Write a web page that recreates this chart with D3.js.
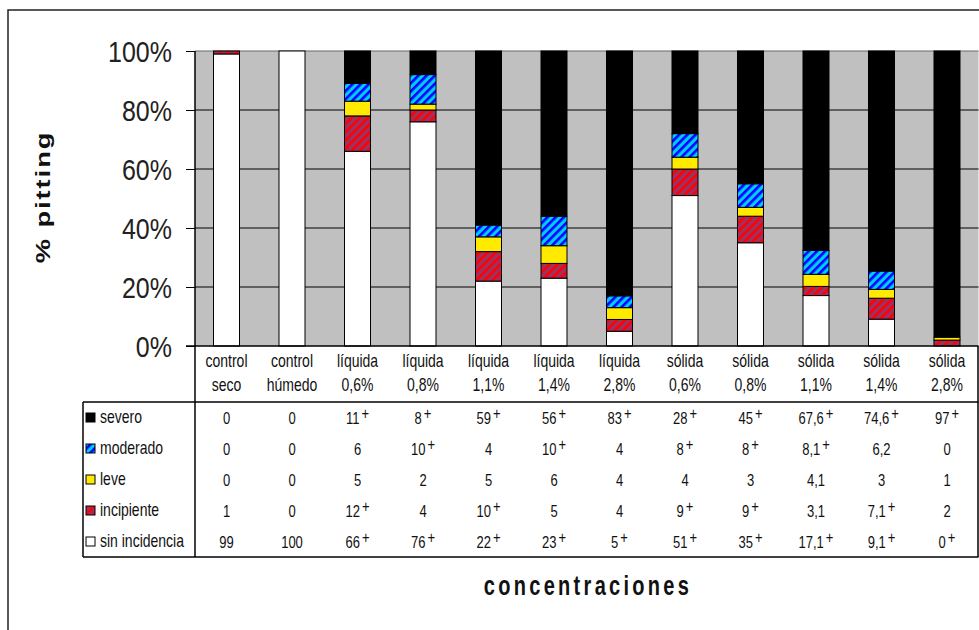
<!DOCTYPE html>
<html>
<head>
<meta charset="utf-8">
<script src="https://cdn.jsdelivr.net/npm/d3@7"></script>
<style>
  body { margin: 0; background: #ffffff; }
  text { font-family: "Liberation Sans", Arial, sans-serif; }
</style>
</head>
<body>
<svg id="chart" width="979" height="630"></svg>
<script>
// Categories (two-line labels)
const categories = [
  ["control", "seco"], ["control", "húmedo"],
  ["líquida", "0,6%"], ["líquida", "0,8%"], ["líquida", "1,1%"], ["líquida", "1,4%"], ["líquida", "2,8%"],
  ["sólida", "0,6%"], ["sólida", "0,8%"], ["sólida", "1,1%"], ["sólida", "1,4%"], ["sólida", "2,8%"]
];

// Percentage of fruits per pitting class
const sinIncidencia = [99, 100, 66, 76, 22, 23, 5, 51, 35, 17.1, 9.1, 0];
const incipiente    = [1, 0, 12, 4, 10, 5, 4, 9, 9, 3.1, 7.1, 2];
const leve          = [0, 0, 5, 2, 5, 6, 4, 4, 3, 4.1, 3, 1];
const moderado      = [0, 0, 6, 10, 4, 10, 4, 8, 8, 8.1, 6.2, 0];
const severo        = [0, 0, 11, 8, 59, 56, 83, 28, 45, 67.6, 74.6, 97];

// "+" marks shown next to the values in the table
const markSin        = [0, 0, 1, 1, 1, 1, 1, 1, 1, 1, 1, 1];
const markIncipiente = [0, 0, 1, 0, 1, 0, 0, 1, 1, 0, 1, 0];
const markLeve       = [0, 0, 0, 0, 0, 0, 0, 0, 0, 0, 0, 0];
const markModerado   = [0, 0, 0, 1, 0, 1, 0, 1, 1, 1, 0, 0];
const markSevero     = [0, 0, 1, 1, 1, 1, 1, 1, 1, 1, 1, 1];

const yTicks = [0, 20, 40, 60, 80, 100];

// Series, bottom of the stack first
const series = [
  { key: "sin incidencia", values: sinIncidencia, marks: markSin,        fill: "#ffffff" },
  { key: "incipiente",     values: incipiente,    marks: markIncipiente, fill: "url(#hatchIncipiente)" },
  { key: "leve",           values: leve,          marks: markLeve,       fill: "#ffea00" },
  { key: "moderado",       values: moderado,      marks: markModerado,   fill: "url(#hatchModerado)" },
  { key: "severo",         values: severo,        marks: markSevero,     fill: "#000000" }
];

const svg = d3.select("#chart");
const defs = svg.append("defs");

function hatch(id, base, stripe) {
  const p = defs.append("pattern")
    .attr("id", id)
    .attr("patternUnits", "userSpaceOnUse")
    .attr("width", 5.8).attr("height", 5.8)
    .attr("patternTransform", "rotate(45)");
  p.append("rect").attr("width", 5.8).attr("height", 5.8).attr("fill", base);
  p.append("rect").attr("width", 2.6).attr("height", 5.8).attr("fill", stripe);
}
hatch("hatchIncipiente", "#993366", "#ff0000");
hatch("hatchModerado", "#00ccff", "#0000ff");

// Outer frame
svg.append("path")
  .attr("d", "M8,630V10H979")
  .attr("fill", "none").attr("stroke", "#222").attr("stroke-width", 1.5);

const plotLeft = 195, plotRight = 978.5, plotTop = 51, plotBottom = 346;

const x = d3.scaleBand()
  .domain(d3.range(categories.length))
  .range([plotLeft, plotRight])
  .paddingInner(0.603)
  .paddingOuter(0.2825);

const y = d3.scaleLinear().domain([0, 100]).range([plotBottom, plotTop]);

// Plot background
svg.append("rect")
  .attr("x", plotLeft).attr("y", plotTop)
  .attr("width", plotRight - plotLeft).attr("height", plotBottom - plotTop)
  .attr("fill", "#c0c0c0");

// Gridlines
svg.append("g").selectAll("line")
  .data(yTicks.filter(d => d > 0))
  .join("line")
  .attr("x1", plotLeft).attr("x2", plotRight)
  .attr("y1", d => y(d)).attr("y2", d => y(d))
  .attr("stroke", d => d === 100 ? "#666" : "#000").attr("stroke-width", 1);

// Stacked bars
const rows = categories.map((c, i) => {
  const o = { i };
  series.forEach(s => { o[s.key] = s.values[i]; });
  return o;
});
const stack = d3.stack().keys(series.map(s => s.key))(rows);

const barG = svg.append("g");
stack.forEach((layer, li) => {
  barG.append("g")
    .selectAll("rect")
    .data(layer.filter(d => d[1] - d[0] > 0))
    .join("rect")
    .attr("x", d => x(d.data.i))
    .attr("width", x.bandwidth())
    .attr("y", d => y(d[1]))
    .attr("height", d => y(d[0]) - y(d[1]))
    .attr("fill", series[li].fill)
    .attr("stroke", "#000")
    .attr("stroke-width", 1);
});

// Y axis
const yAxis = svg.append("g")
  .attr("transform", `translate(${plotLeft},0)`)
  .call(d3.axisLeft(y).tickValues(yTicks).tickFormat(d => d + "%").tickSize(9).tickSizeOuter(0));
yAxis.select(".domain").remove();
yAxis.selectAll(".tick line").attr("stroke", "#000").attr("stroke-width", 1);
yAxis.selectAll(".tick text")
  .attr("x", null).attr("dy", "0.36em")
  .attr("transform", "translate(-23,0) scale(1,1.2)")
  .attr("fill", "#222")
  .style("font-size", "25px")
  .style("font-family", "'Liberation Sans', Arial, sans-serif");

// Axis and table lines
const lines = svg.append("g").attr("stroke", "#000").attr("stroke-width", 1.5);
lines.append("line").attr("x1", plotLeft).attr("x2", plotLeft).attr("y1", plotTop).attr("y2", 557);
lines.append("line").attr("x1", 186).attr("x2", plotRight).attr("y1", plotBottom).attr("y2", plotBottom);
lines.append("line").attr("x1", 83).attr("x2", plotRight).attr("y1", 402).attr("y2", 402);
lines.append("line").attr("x1", 83).attr("x2", plotRight).attr("y1", 557).attr("y2", 557);
lines.append("line").attr("x1", 83).attr("x2", 83).attr("y1", 402).attr("y2", 557);
lines.append("line").attr("x1", 978).attr("x2", 978).attr("y1", plotBottom).attr("y2", 557);

// Category labels
const cx = i => x(i) + x.bandwidth() / 2;
const catG = svg.append("g");
categories.forEach((c, i) => {
  c.forEach((line, k) => {
    catG.append("text")
      .attr("transform", `translate(${cx(i)},${k === 0 ? 367 : 391}) scale(1,1.3)`)
      .attr("text-anchor", "middle")
      .attr("fill", "#111")
      .style("font-size", "14px")
      .text(line);
  });
});

// Data table: rows from top (severo) to bottom (sin incidencia)
const tableSeries = series.slice().reverse();
const fmt = v => String(v).replace(".", ",");
const tableG = svg.append("g");
tableSeries.forEach((s, r) => {
  const cy = 418 + r * 31;
  // legend swatch + label
  tableG.append("rect")
    .attr("x", 86).attr("y", cy - 5).attr("width", 9).attr("height", 9)
    .attr("fill", s.fill).attr("stroke", "#000").attr("stroke-width", 1);
  tableG.append("text")
    .attr("transform", `translate(100,${cy + 5}) scale(1,1.3)`)
    .attr("fill", "#111")
    .style("font-size", "14px")
    .text(s.key);
  // values
  s.values.forEach((v, i) => {
    const t = tableG.append("text")
      .attr("transform", `translate(${cx(i)},${cy + 6}) scale(1,1.3)`)
      .attr("text-anchor", "middle")
      .attr("fill", "#111")
      .style("font-size", "13px");
    t.append("tspan").text(fmt(v));
    if (s.marks[i]) {
      t.append("tspan").attr("dx", 2).attr("dy", -4).style("font-size", "13px").text("+");
    }
  });
});

// Axis titles
svg.append("text")
  .attr("transform", "translate(50,197) rotate(-90) scale(1.3,1)")
  .attr("text-anchor", "middle")
  .attr("fill", "#111")
  .style("font-size", "21px")
  .style("font-weight", "bold")
  .style("letter-spacing", "1.5px")
  .text("% pitting");

svg.append("text")
  .attr("transform", "translate(588,595) scale(1,1.35)")
  .attr("text-anchor", "middle")
  .attr("fill", "#111")
  .style("font-size", "20px")
  .style("font-weight", "bold")
  .style("letter-spacing", "3.3px")
  .text("concentraciones");
</script>
</body>
</html>
